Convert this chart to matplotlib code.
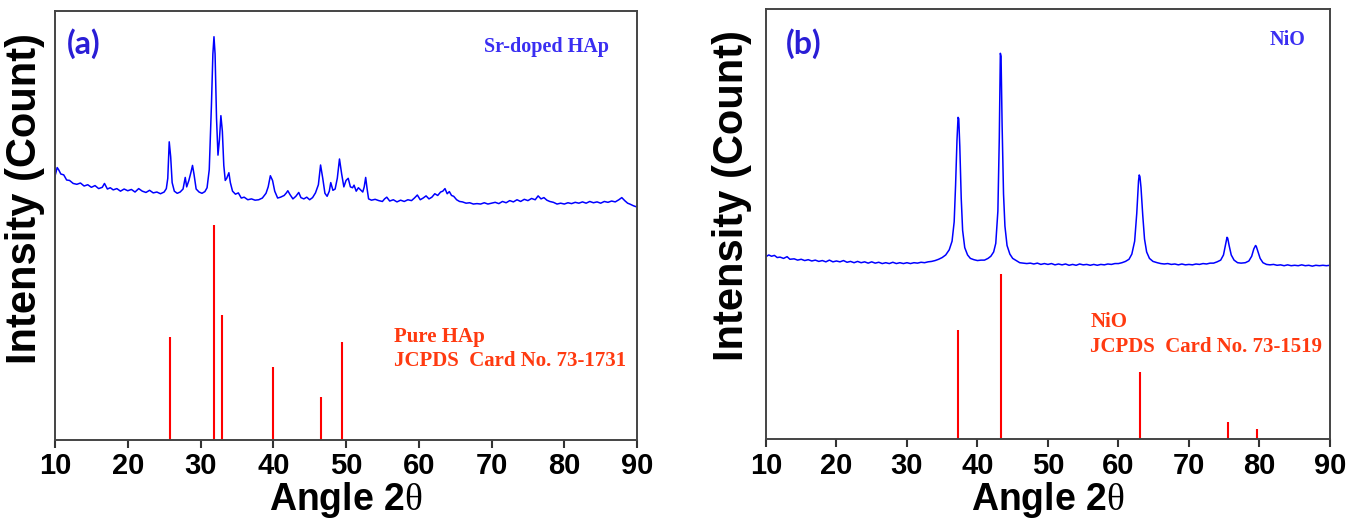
import matplotlib
matplotlib.use("Agg")
import matplotlib.pyplot as plt

# ---- data (intensity in arbitrary units, 0-100 axis) ----

# (a) Sr-doped HAp measured pattern
angle_a = [10.0, 10.3, 10.5, 10.8, 11.2, 11.6, 12.0, 12.5, 13.0, 13.5, 14.0, 14.5,
           15.0, 15.5, 16.0, 16.5, 16.8, 17.2, 17.6, 18.0, 18.5, 19.0, 19.5, 20.0,
           20.5, 21.0, 21.5, 22.0, 22.5, 23.0, 23.5, 24.0, 24.5, 25.0, 25.3, 25.5,
           25.7, 25.9, 26.1, 26.4, 26.8, 27.2, 27.6, 27.9, 28.1, 28.4, 28.7, 28.9,
           29.1, 29.4, 29.8, 30.2, 30.6, 30.9, 31.2, 31.5, 31.7, 31.85, 32.0, 32.2,
           32.4, 32.6, 32.8, 33.0, 33.2, 33.4, 33.6, 33.9, 34.1, 34.4, 34.8, 35.2,
           35.6, 36.0, 36.5, 37.0, 37.5, 38.0, 38.5, 39.0, 39.3, 39.6, 39.9, 40.2,
           40.6, 41.0, 41.5, 41.8, 42.0, 42.3, 42.7, 43.1, 43.5, 43.8, 44.2, 44.6,
           45.0, 45.4, 45.8, 46.2, 46.5, 46.8, 47.1, 47.4, 47.7, 47.9, 48.2, 48.5,
           48.8, 49.1, 49.4, 49.7, 50.0, 50.3, 50.6, 50.9, 51.1, 51.4, 51.7, 52.0,
           52.3, 52.5, 52.7, 52.9, 53.1, 53.5, 54.0, 54.5, 55.0, 55.3, 55.6, 56.0,
           56.5, 57.0, 57.5, 58.0, 58.5, 59.0, 59.4, 59.8, 60.2, 60.6, 61.0, 61.4,
           61.8, 62.2, 62.6, 63.0, 63.3, 63.6, 63.9, 64.2, 64.5, 64.8, 65.2, 65.6,
           66.0, 66.5, 67.0, 67.5, 68.0, 68.5, 69.0, 69.5, 70.0, 70.5, 71.0, 71.5,
           72.0, 72.5, 73.0, 73.5, 74.0, 74.5, 75.0, 75.5, 76.0, 76.4, 76.8, 77.2,
           77.6, 78.0, 78.5, 79.0, 79.5, 80.0, 80.5, 81.0, 81.5, 82.0, 82.5, 83.0,
           83.5, 84.0, 84.5, 85.0, 85.5, 86.0, 86.5, 87.0, 87.5, 87.9, 88.3, 88.7,
           89.0, 89.5, 90.0]
counts_a = [61.5, 63.5, 63.0, 62.0, 61.8, 60.6, 60.5, 59.8, 59.6, 59.9, 59.2, 59.5,
            58.9, 59.3, 58.6, 58.9, 59.8, 58.5, 58.8, 58.3, 58.6, 58.0, 58.5, 58.1,
            58.4, 57.8, 58.6, 58.0, 57.7, 58.2, 57.6, 57.8, 57.4, 57.8, 58.6, 61.0,
            69.5, 66.0, 60.0, 58.0, 57.5, 57.8, 58.5, 61.2, 59.0, 60.5, 62.5, 64.0,
            62.0, 58.5, 57.8, 57.5, 57.9, 58.8, 63.0, 78.0, 90.0, 94.0, 90.0, 75.0,
            66.4, 70.0, 75.6, 72.0, 64.0, 60.5, 61.0, 62.3, 60.0, 58.0, 57.3, 57.6,
            56.4, 56.6, 56.0, 56.2, 55.9, 56.0, 56.4, 57.5, 59.0, 61.6, 60.5, 58.0,
            56.4, 56.6, 57.0, 57.6, 58.1, 57.2, 56.2, 56.8, 57.7, 56.5, 56.2, 56.6,
            56.0, 56.5, 57.6, 59.5, 64.1, 61.0, 57.5, 56.8, 58.0, 60.0, 58.2, 58.5,
            61.0, 65.5, 62.0, 59.0, 60.5, 61.0, 59.0, 58.8, 59.4, 58.0, 58.8, 58.3,
            57.8, 59.0, 61.2, 58.5, 56.2, 55.9, 56.1, 55.8, 55.6, 56.2, 56.6, 55.7,
            56.0, 55.5, 55.9, 55.6, 56.0, 55.8, 56.4, 57.1, 56.0, 56.4, 56.9, 56.2,
            56.6, 57.4, 57.0, 57.8, 58.0, 58.6, 57.4, 57.9, 57.0, 56.8, 56.0, 55.6,
            55.5, 55.2, 55.3, 55.0, 55.1, 55.0, 55.3, 55.0, 55.2, 55.4, 55.1, 55.6,
            55.3, 55.8, 55.5, 56.0, 55.6, 56.1, 55.8, 56.3, 56.0, 56.9, 56.2, 56.5,
            55.9, 55.6, 55.4, 55.0, 55.2, 55.0, 55.3, 55.1, 55.4, 55.2, 55.5, 55.2,
            55.6, 55.3, 55.5, 55.2, 55.6, 55.4, 55.7, 55.5, 56.0, 56.5, 55.8, 55.2,
            55.0, 54.6, 54.3]

# (a) reference lines, pure HAp JCPDS 73-1731
ref_angle_a = [25.8, 31.8, 32.9, 39.9, 46.6, 49.4]
ref_height_a = [24.1, 50.0, 29.1, 17.1, 10.0, 22.8]

# (b) NiO measured pattern
angle_b = [10.0, 10.4, 10.8, 11.2, 11.6, 12.0, 12.5, 13.0, 13.4, 14.0, 14.5, 15.0,
           15.5, 16.0, 16.5, 17.0, 17.5, 18.0, 18.5, 19.0, 19.5, 20.0, 20.5, 21.0,
           21.5, 22.0, 22.5, 23.0, 23.5, 24.0, 24.5, 25.0, 25.5, 26.0, 26.5, 27.0,
           27.5, 28.0, 28.5, 29.0, 29.5, 30.0, 30.5, 31.0, 31.5, 32.0, 32.5, 33.0,
           33.5, 34.0, 34.5, 35.0, 35.5, 36.0, 36.4, 36.7, 36.9, 37.1, 37.25, 37.35,
           37.5, 37.7, 37.9, 38.2, 38.6, 39.0, 39.5, 40.0, 40.5, 41.0, 41.5, 41.9,
           42.3, 42.6, 42.9, 43.1, 43.25, 43.35, 43.5, 43.7, 43.9, 44.2, 44.6, 45.0,
           45.5, 46.0, 46.5, 47.0, 47.5, 48.0, 48.5, 49.0, 49.5, 50.0, 50.5, 51.0,
           51.5, 52.0, 52.5, 53.0, 53.5, 54.0, 54.5, 55.0, 55.5, 56.0, 56.5, 57.0,
           57.5, 58.0, 58.5, 59.0, 59.5, 60.0, 60.5, 61.0, 61.5, 61.9, 62.3, 62.6,
           62.85, 62.95, 63.05, 63.2, 63.45, 63.7, 64.0, 64.4, 64.9, 65.5, 66.0, 66.5,
           67.0, 67.5, 68.0, 68.5, 69.0, 69.5, 70.0, 70.5, 71.0, 71.5, 72.0, 72.5,
           73.0, 73.5, 74.0, 74.5, 74.9, 75.2, 75.4, 75.5, 75.7, 76.0, 76.4, 76.9,
           77.4, 78.0, 78.5, 78.9, 79.2, 79.45, 79.55, 79.8, 80.1, 80.5, 81.0, 81.5,
           82.0, 82.5, 83.0, 83.5, 84.0, 84.5, 85.0, 85.5, 86.0, 86.5, 87.0, 87.5,
           88.0, 88.5, 89.0, 89.5, 90.0]
counts_b = [42.4, 42.8, 42.5, 42.7, 42.2, 42.3, 42.0, 42.4, 41.8, 41.9, 41.6, 41.8,
            41.5, 41.7, 41.4, 41.6, 41.3, 41.5, 41.2, 41.6, 41.2, 41.4, 41.2, 41.5,
            41.1, 41.3, 41.0, 41.3, 41.0, 41.2, 40.9, 41.2, 40.9, 41.1, 40.8, 41.0,
            40.8, 41.1, 40.8, 41.0, 40.8, 41.0, 40.8, 41.0, 40.9, 41.1, 41.0, 41.2,
            41.3, 41.5, 41.8, 42.2, 42.8, 44.0, 46.0, 50.5, 59.0, 69.5, 74.8, 74.5,
            68.0, 56.0, 48.5, 44.5, 42.8, 42.0, 41.7, 41.5, 41.6, 41.6, 42.0, 42.5,
            43.5, 45.5, 53.0, 70.0, 89.7, 89.0, 73.0, 57.0, 49.5, 45.0, 43.0, 42.0,
            41.5, 41.0, 40.9, 40.8, 40.9, 40.7, 40.9, 40.6, 40.8, 40.6, 40.8, 40.5,
            40.7, 40.5, 40.7, 40.4, 40.6, 40.4, 40.7, 40.5, 40.6, 40.4, 40.6, 40.4,
            40.6, 40.5, 40.7, 40.6, 40.8, 40.8, 41.0, 41.3, 41.8, 43.0, 46.0, 52.5,
            60.0, 61.4, 61.0, 58.5, 52.0, 46.5, 43.5, 42.0, 41.3, 41.0, 40.8, 40.7,
            40.8, 40.6, 40.7, 40.5, 40.7, 40.5, 40.6, 40.5, 40.7, 40.6, 40.8, 40.7,
            40.9, 40.9, 41.2, 41.6, 42.8, 45.3, 46.9, 46.7, 45.0, 42.8, 41.6, 41.0,
            40.9, 41.0, 41.4, 42.5, 44.2, 45.0, 44.8, 43.5, 42.0, 41.0, 40.6, 40.5,
            40.6, 40.4, 40.5, 40.3, 40.5, 40.3, 40.4, 40.3, 40.5, 40.3, 40.4, 40.2,
            40.4, 40.3, 40.4, 40.3, 40.4]

# (b) reference lines, NiO JCPDS 73-1519
ref_angle_b = [37.3, 43.3, 63.0, 75.6, 79.6]
ref_height_b = [25.4, 38.3, 15.5, 4.0, 2.4]

xticks = [10, 20, 30, 40, 50, 60, 70, 80, 90]

plt.rcParams['mathtext.fontset'] = 'custom'
plt.rcParams['mathtext.rm'] = 'Liberation Serif'

SANS = ['Liberation Sans', 'DejaVu Sans']
SERIF = ['Liberation Serif', 'DejaVu Serif']
TRACE = '#0000ff'
STICK = '#ff0000'
NOTE = '#ff3a10'
TAG = '#2a1ed6'
LABEL_BLUE = '#3a2ef2'


def style_axes(ax, label_x, label_y):
    ax.set_xlim(10, 90)
    ax.set_ylim(0, 100)
    ax.set_xticks(xticks)
    ax.set_yticks([])
    ax.tick_params(axis='x', direction='out', length=6, width=1.5, pad=3,
                   colors='#333333', labelcolor='black')
    for lab in ax.get_xticklabels():
        lab.set_family(SANS)
        lab.set_fontweight('bold')
        lab.set_fontsize(21)
    for sp in ax.spines.values():
        sp.set_color('#444444')
        sp.set_linewidth(1.4)
    ax.set_xlabel(r'Angle 2$\mathrm{\theta}$', family=SANS, fontweight='bold',
                  fontsize=27, labelpad=0)
    ax.set_ylabel('Intensity (Count)', family=SANS, fontweight='bold', fontsize=30)
    ax.yaxis.set_label_coords(label_x, label_y)


fig = plt.figure(figsize=(13.48, 5.23), dpi=100)
ax1 = fig.add_axes([0.0408, 0.1587, 0.4318, 0.8203])
ax2 = fig.add_axes([0.5682, 0.1606, 0.4184, 0.8222])

# panel (a)
ax1.plot(angle_a, counts_a, color=TRACE, lw=1.1)
ax1.vlines(ref_angle_a, 0, ref_height_a, color=STICK, lw=1.5)
style_axes(ax1, -0.017, 0.562)
ax1.text(11.6, 92.5, '(a)', family=['Lato', 'DejaVu Sans'], fontweight='bold',
         fontsize=23, color=TAG, va='center')
ax1.text(69.0, 91.7, 'Sr-doped HAp', family=SERIF, fontweight='bold',
         fontsize=14.5, color=LABEL_BLUE, va='center')
ax1.text(56.6, 24.1, 'Pure HAp', family=SERIF, fontweight='bold',
         fontsize=15, color=NOTE, va='center')
ax1.text(56.6, 18.3, 'JCPDS  Card No. 73-1731', family=SERIF, fontweight='bold',
         fontsize=15, color=NOTE, va='center')

# panel (b)
ax2.plot(angle_b, counts_b, color=TRACE, lw=1.1)
ax2.vlines(ref_angle_b, 0, ref_height_b, color=STICK, lw=1.5)
style_axes(ax2, -0.025, 0.567)
ax2.text(12.8, 92.0, '(b)', family=['Lato', 'DejaVu Sans'], fontweight='bold',
         fontsize=23, color=TAG, va='center')
ax2.text(81.5, 92.8, 'NiO', family=SERIF, fontweight='bold',
         fontsize=14.5, color=LABEL_BLUE, va='center')
ax2.text(56.0, 27.2, 'NiO', family=SERIF, fontweight='bold',
         fontsize=15, color=NOTE, va='center')
ax2.text(56.0, 21.4, 'JCPDS  Card No. 73-1519', family=SERIF, fontweight='bold',
         fontsize=15, color=NOTE, va='center')

fig.savefig('out.png', dpi=100, facecolor='white')
